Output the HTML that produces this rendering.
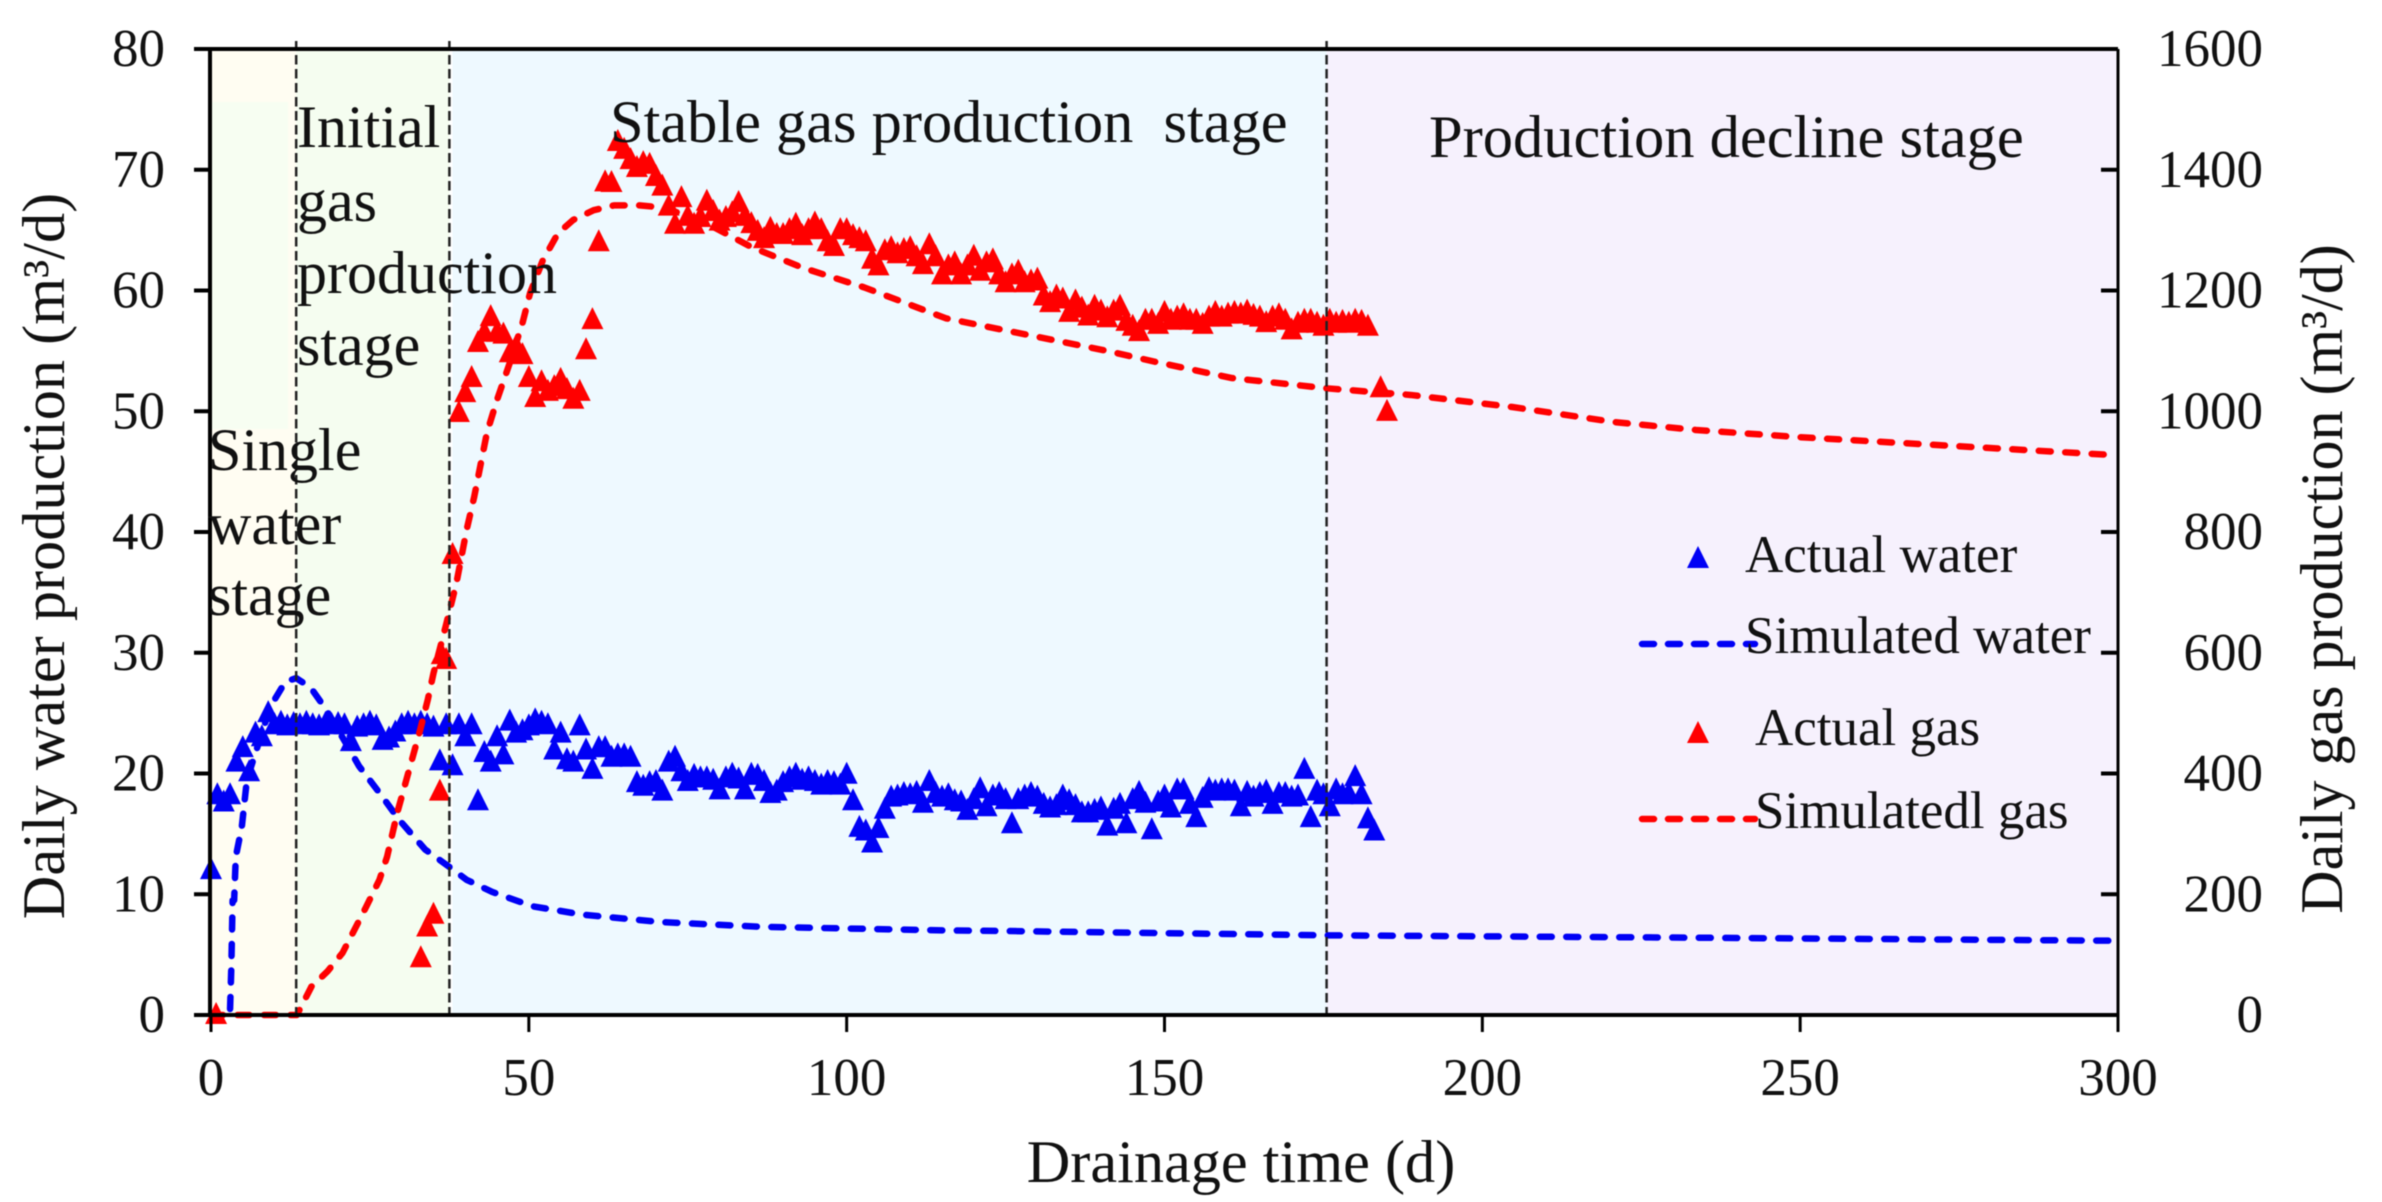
<!DOCTYPE html>
<html lang="en">
<head>
<meta charset="utf-8">
<title>Drainage time chart</title>
<style>
html,body{margin:0;padding:0;background:#fff;}
svg{display:block;filter:blur(0.6px);}
text{font-family:"Liberation Serif",serif;fill:#111;}
</style>
</head>
<body>
<svg id="chart" xmlns="http://www.w3.org/2000/svg" width="2382" height="1202" viewBox="0 0 2382 1202"></svg>
<script>
const xTicks = [0, 50, 100, 150, 200, 250, 300];
const waterTicks = [0, 10, 20, 30, 40, 50, 60, 70, 80];
const gasTicks = [0, 200, 400, 600, 800, 1000, 1200, 1400, 1600];
const stageBoundaries = [13.4, 37.5, 175.5];

const waterActualDays = [0,1,2,3,4,5,6,7,8,9,10,11,12,13,14,15,16,17,18,19,20,21,22,23,24,25,26,27,28,29,30,31,32,33,34,35,36,37,38,39,40,41,42,43,44,45,46,47,48,49,50,51,52,53,54,55,56,57,58,59,60,61,62,63,64,65,66,67,68,69,70,71,72,73,74,75,76,77,78,79,80,81,82,83,84,85,86,87,88,89,90,91,92,93,94,95,96,97,98,99,100,101,102,103,104,105,106,107,108,109,110,111,112,113,114,115,116,117,118,119,120,121,122,123,124,125,126,127,128,129,130,131,132,133,134,135,136,137,138,139,140,141,142,143,144,145,146,147,148,149,150,151,152,153,154,155,156,157,158,159,160,161,162,163,164,165,166,167,168,169,170,171,172,173,174,175,176,177,178,179,180,181,182,183];
const waterActualValues = [12,18.2,17.6,18.2,20.9,22.1,20.1,23.3,23,25,24,24.2,23.9,24.1,24,24.2,24,23.9,24.1,24,24.1,24,22.6,23.8,24,24.2,23.9,22.7,22.9,23.4,24,24.2,24,24.2,24,23.8,21,24,20.6,24,23,24,17.7,21.7,20.9,23,21.5,24.3,23.3,23.5,23.9,24.4,24.2,24,21.9,23.3,21.1,20.9,23.9,21.9,20.3,22.1,22.1,21.3,21.5,21.5,21.3,19.2,18.9,19.2,19.3,18.5,20.9,21.3,20.1,19.3,19.8,19.6,19.6,19.4,18.6,19.6,19.9,19.5,18.6,19.9,19.8,19.3,18.3,18.5,19.2,19.6,19.9,19.4,19.6,19.3,19,19.3,19.2,19,19.9,17.7,15.5,15.2,14.2,15.4,17,18,18.1,18.3,18.2,18.4,17.5,19.3,18.3,18,18.2,17.7,17.6,16.9,17.8,18.7,17.2,18.1,18.3,17.8,15.8,17.8,18.1,18.3,18,17.4,17.1,17.3,18.1,17.7,17.3,16.7,16.7,16.9,17.1,15.6,17,17.4,15.8,17.8,18.4,17.5,15.3,17.6,18.1,17.1,18.6,18.6,17.4,16.3,17.9,18.7,18.5,18.6,18.6,18.5,17.2,18.4,18,18.3,18.5,17.4,18.3,18.3,18,18.1,20.3,16.3,18.5,18.2,17.2,18.6,18.2,18.3,19.7,18.2,16.2,15.2];

const gasActualDays = [0.8,33,34,35,36,36.3,37,38,39,40,41,42,43,44,45,46,47,48,49,50,51,52,53,54,55,56,57,58,59,60,61,62,63,64,65,66,67,68,69,70,71,72,73,74,75,76,77,78,79,80,81,82,83,84,85,86,87,88,89,90,91,92,93,94,95,96,97,98,99,100,101,102,103,104,105,106,107,108,109,110,111,112,113,114,115,116,117,118,119,120,121,122,123,124,125,126,127,128,129,130,131,132,133,134,135,136,137,138,139,140,141,142,143,144,145,146,147,148,149,150,151,152,153,154,155,156,157,158,159,160,161,162,163,164,165,166,167,168,169,170,171,172,173,174,175,176,177,178,179,180,181,182,184,185];
const gasActualValues = [0,94,145,166,370,596,588,762,997,1030,1055,1113,1130,1156,1130,1127,1096,1107,1093,1055,1022,1048,1032,1040,1052,1035,1019,1032,1101,1151,1280,1379,1378,1446,1433,1416,1403,1411,1408,1388,1372,1339,1309,1353,1322,1309,1320,1347,1330,1314,1320,1328,1345,1322,1310,1297,1285,1302,1292,1292,1300,1309,1290,1300,1311,1300,1280,1272,1300,1300,1290,1285,1280,1251,1240,1265,1270,1260,1267,1270,1255,1242,1275,1255,1225,1240,1245,1225,1240,1256,1231,1245,1250,1225,1212,1225,1231,1212,1215,1218,1190,1179,1190,1185,1163,1182,1170,1157,1173,1165,1154,1165,1173,1148,1140,1131,1150,1150,1143,1163,1150,1155,1159,1150,1150,1143,1155,1163,1155,1160,1163,1160,1165,1158,1155,1146,1155,1159,1150,1134,1145,1150,1150,1145,1140,1150,1145,1148,1145,1150,1148,1140,1038,999];

const waterSimDays = [3,3.2,3.4,3.64,3.9,4.85,5.65,7,9.3,11.7,13.4,15.7,18.1,20.9,23.3,26.5,29.7,33.7,37.4,40.2,44.2,50.6,58.6,70.7,86.7,116,124.5,175.5,234,300];
const waterSimValues = [0.5,4,9.5,9.5,13.1,15.6,19.5,21.7,25.5,27.6,27.9,27.1,25.3,22.8,20.6,18.4,16.1,13.7,12.3,11.2,10.2,9,8.3,7.7,7.3,7,6.96,6.6,6.4,6.15];

const gasSimDays = [0,13.5,14.2,15.8,18.3,20.7,22.8,24.4,26.5,27.7,29.3,31.3,32.9,34.1,35,36.9,38.6,40.2,41.4,43.4,45,47,49,50.2,52.2,54.6,57,60.2,63.4,67.4,71.5,78.7,85,93,102.8,115.6,124.5,140.5,148.5,160.6,175.5,188.7,204.7,220.8,233.6,250,300];
const gasSimValues = [0,0,14,47,72,103,146,179,224,262,335,411,472,522,566,643,715,803,858,964,1019,1080,1146,1196,1250,1295,1317,1333,1341,1341,1337,1307,1272,1238,1205,1154,1135,1101,1082,1055,1038,1027,1007,982,969,957,927];

const svg = document.getElementById('chart');
const NS = 'http://www.w3.org/2000/svg';
const plotLeft = 211, plotRight = 2118, plotTop = 49, plotBottom = 1015;
const xScale = d => plotLeft + d / 300 * (plotRight - plotLeft);
const waterScale = v => plotBottom - v / 80 * (plotBottom - plotTop);
const gasScale = v => plotBottom - v / 1600 * (plotBottom - plotTop);

function make(tag, attrs, parent) {
  const el = document.createElementNS(NS, tag);
  for (const k in attrs) el.setAttribute(k, attrs[k]);
  (parent || svg).appendChild(el);
  return el;
}

/* stage backgrounds */
const b1 = make('rect', {x: plotLeft, y: plotTop, width: xScale(stageBoundaries[0]) - plotLeft, height: plotBottom - plotTop, fill: '#FFFDF2'});


const b1g = make('rect', {x: plotLeft, y: 102, width: 77, height: 327, fill: '#F7FEF2'});


const b2 = make('rect', {x: xScale(stageBoundaries[0]), y: plotTop, width: xScale(stageBoundaries[1]) - xScale(stageBoundaries[0]), height: plotBottom - plotTop, fill: '#F5FDF0'});


const b3 = make('rect', {x: xScale(stageBoundaries[1]) + 3, y: plotTop, width: xScale(stageBoundaries[2]) - xScale(stageBoundaries[1]) - 3, height: plotBottom - plotTop, fill: '#EEF9FF'});


const b4 = make('rect', {x: xScale(stageBoundaries[2]), y: plotTop, width: plotRight - xScale(stageBoundaries[2]), height: plotBottom - plotTop, fill: '#F6F1FD'});



/* markers */
function triangle(cx, cy, fill, parent) {
  return make('polygon', {points: `${cx - 11},${cy + 9} ${cx + 11},${cy + 9} ${cx},${cy - 13}`, fill: fill}, parent);
}

/* water and gas simulated lines, markers */
const waterMarks = make('g', {});


waterActualDays.forEach((d, i) => {
  const t = triangle(xScale(d), waterScale(waterActualValues[i]), '#0000F5', waterMarks);
  
  
});

const waterLine = make('polyline', {
  points: waterSimDays.map((d, i) => xScale(d) + ',' + waterScale(waterSimValues[i])).join(' '),
  fill: 'none', stroke: '#0000F5', 'stroke-width': 6.5, 'stroke-dasharray': '12 14.5', 'stroke-linecap': 'round', 'stroke-linejoin': 'round'
});



const gasMarks = make('g', {});


gasActualDays.forEach((d, i) => {
  const t = triangle(xScale(d), gasScale(gasActualValues[i]), '#FF0000', gasMarks);
  
  
});

const gasLine = make('polyline', {
  points: gasSimDays.map((d, i) => xScale(d) + ',' + gasScale(gasSimValues[i])).join(' '),
  fill: 'none', stroke: '#FF0000', 'stroke-width': 6.5, 'stroke-dasharray': '12 14.5', 'stroke-linecap': 'round', 'stroke-linejoin': 'round'
});



/* stage boundaries */
stageBoundaries.forEach(d => {
  const l = make('line', {x1: xScale(d), x2: xScale(d), y1: plotTop - 8, y2: plotBottom, stroke: '#222', 'stroke-width': 2.5, 'stroke-dasharray': '9.5 4.5'});
  
  
});

/* axes */
function axisLine(x1, y1, x2, y2, w, name) {
  const l = make('line', {x1: x1, y1: y1, x2: x2, y2: y2, stroke: '#000', 'stroke-width': w});
  
  
  return l;
}
axisLine(plotLeft - 1, plotTop, plotLeft - 1, plotBottom, 4, 'left-axis-line');
axisLine(plotRight, plotTop, plotRight, plotBottom, 3, 'right-axis-line');
axisLine(plotLeft, plotTop, plotRight, plotTop, 4, 'top-axis-line');
axisLine(plotLeft, plotBottom, plotRight, plotBottom, 4, 'bottom-axis-line');

function label(str, x, y, size, anchor, name, transform) {
  const t = make('text', {x: x, y: y, 'font-size': size, 'text-anchor': anchor || 'start'});
  if (transform) t.setAttribute('transform', transform);
  t.setAttribute('xml:space', 'preserve');
  t.style.whiteSpace = 'pre';
  t.textContent = str;
  
  
  return t;
}

xTicks.forEach(v => {
  axisLine(xScale(v), plotBottom, xScale(v), plotBottom + 17, 3, 'x-axis-tick');
  label(String(v), xScale(v), 1095, 53, 'middle', 'x-tick-label');
});
waterTicks.forEach(v => {
  axisLine(plotLeft - 17, waterScale(v), plotLeft, waterScale(v), 4, 'left-axis-tick');
  label(String(v), 165, waterScale(v) + 17, 53, 'end', 'left-tick-label');
});
gasTicks.forEach(v => {
  axisLine(plotRight - 17, gasScale(v), plotRight, gasScale(v), 4, 'right-axis-tick');
  label(String(v), 2263, gasScale(v) + 17, 53, 'end', 'right-tick-label');
});

/* titles */
label('Drainage time (d)', 1241, 1182, 60.3, 'middle', 'x-axis-title');
label('Daily water production (m³/d)', 64, 556, 60.3, 'middle', 'left-axis-title', 'rotate(-90 64 556)');
label('Daily gas production (m³/d)', 2342, 579, 60, 'middle', 'right-axis-title', 'rotate(-90 2342 579)');

/* stage labels */
label('Initial', 297, 147, 60, 'start', 'initial-stage-label-line-1');
label('gas', 297, 221, 60, 'start', 'initial-stage-label-line-2');
label('production', 297, 293, 60, 'start', 'initial-stage-label-line-3');
label('stage', 297, 365, 60, 'start', 'initial-stage-label-line-4');
label('Single', 208, 470, 60, 'start', 'single-water-label-line-1');
label('water', 208, 544, 60, 'start', 'single-water-label-line-2');
label('stage', 208, 615, 60, 'start', 'single-water-label-line-3');
label('Stable gas production  stage', 610, 142, 60.4, 'start', 'stable-stage-label');
label('Production decline stage', 1429, 157, 60.5, 'start', 'decline-stage-label');

/* legend */
const lt1 = triangle(1698, 559, '#0000F5');


const ll1 = make('line', {x1: 1642, x2: 1755, y1: 644, y2: 644, stroke: '#0000F5', 'stroke-width': 6.5, 'stroke-dasharray': '12 14', 'stroke-linecap': 'round'});


const lt2 = triangle(1698, 734, '#FF0000');


const ll2 = make('line', {x1: 1642, x2: 1755, y1: 819, y2: 819, stroke: '#FF0000', 'stroke-width': 6.5, 'stroke-dasharray': '12 14', 'stroke-linecap': 'round'});


label('Actual water', 1745, 572, 53, 'start', 'legend-actual-water-label');
label('Simulated water', 1745, 653, 53, 'start', 'legend-simulated-water-label');
label('Actual gas', 1755, 745, 53, 'start', 'legend-actual-gas-label');
label('Simulatedl gas', 1755, 828, 53, 'start', 'legend-simulated-gas-label');
</script>
</body>
</html>
